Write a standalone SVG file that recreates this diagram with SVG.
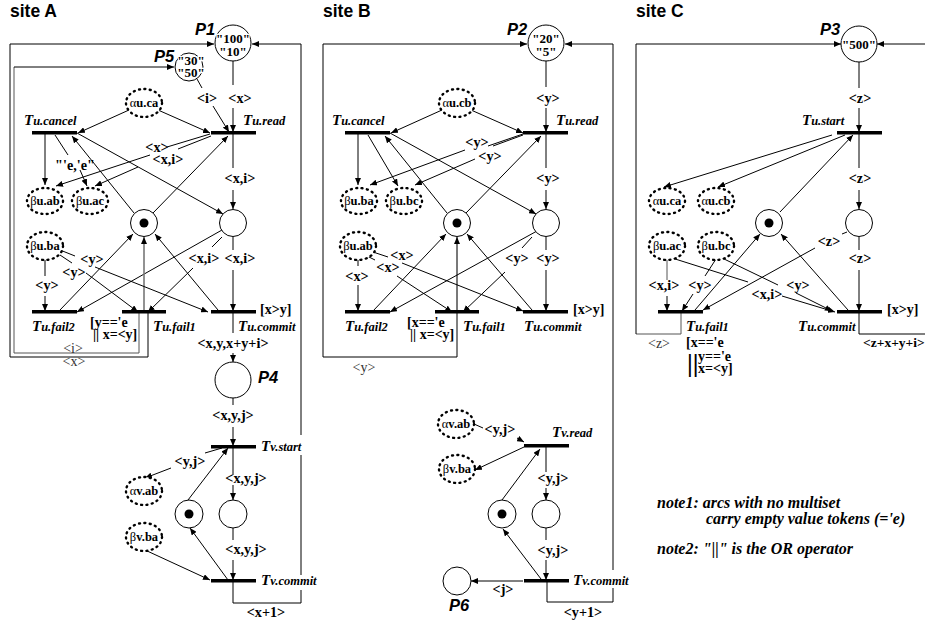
<svg xmlns="http://www.w3.org/2000/svg" width="925" height="623" viewBox="0 0 925 623">
<style>
text{font-family:"Liberation Serif","Times New Roman",serif;font-weight:bold;fill:#000}
.s{font-family:"Liberation Sans",Arial,sans-serif;font-size:17.5px}
.P{font-family:"Liberation Sans",Arial,sans-serif;font-style:italic;font-size:16.5px}
.l{font-size:14.2px;text-anchor:middle}
.g{font-size:14px;text-anchor:middle;font-weight:normal;fill:#333}
.gd{font-size:14px}
.k{font-size:13.5px}
.m{font-size:13px;text-anchor:middle;stroke:#fff;stroke-width:2.5px;paint-order:stroke}
.tn{font-size:15px;font-style:italic}
.tn tspan{font-size:12.5px}
.e{font-size:12.5px;text-anchor:middle}
.e tspan{font-weight:normal}
.note{font-size:16px;font-style:italic}
.t{fill:#000}
.p{fill:#fff;stroke:#000;stroke-width:1}
.d{fill:#fff;stroke:#000;stroke-width:2.4;stroke-dasharray:1 4.4;stroke-linecap:round}
.a{fill:none;stroke:#000;stroke-width:1;marker-end:url(#h)}
.n{fill:none;stroke:#000;stroke-width:1}
.y{fill:none;stroke:#555;stroke-width:1}
.th{fill:none;stroke:#777;stroke-width:1.6;marker-end:url(#h)}
</style>
<defs>
<marker id="h" markerUnits="userSpaceOnUse" markerWidth="7" markerHeight="6" refX="7" refY="3" orient="auto"><path d="M0 0L7 3L0 6Z" fill="#000"/></marker>
</defs>
<rect width="925" height="623" fill="#fff"/>
<g id="connectors">
<path class="a" d="M10 356V44H214"/>
<path class="y" d="M139 312V353H14V67"/>
<path class="a" d="M14 67H174"/>
<path class="n" d="M148 312V357H10V356"/>
<path class="a" d="M301 435V44H252"/>
<path class="n" d="M233 581V603H301V590M301 455V575"/>
<path class="a" d="M233 61V85M233 108V132"/>
<path class="a" d="M197 79L202 88M213 106L229 132"/>
<path class="a" d="M129 110L78 133"/>
<path class="a" d="M158 110L210 133"/>
<path class="a" d="M210 134L167 147M150 155L56 186"/>
<path class="a" d="M211 136L178 149M138 167L95 186"/>
<path class="a" d="M45 133V185"/>
<path class="a" d="M55 135L68 155M80 170L87 186"/>
<path class="a" d="M134 213L72 136"/>
<path class="a" d="M153 213L228 136"/>
<path class="a" d="M77 133L223 214"/>
<path class="a" d="M233 134V168M233 190V209"/>
<path class="a" d="M222 237L212 247M193 268L148 312"/>
<path class="a" d="M222 230L77 312"/>
<path class="a" d="M233 237V250M233 270V311"/>
<path class="a" d="M60 310L133 234"/>
<path class="th" d="M144 312V237"/>
<path class="a" d="M218 310L155 234"/>
<path class="a" d="M45 259V276M45 296V311"/>
<path class="a" d="M60 255L72 263M86 273L138 312"/>
<path class="a" d="M60 250L75 256M95 267L208 312"/>
<path class="a" d="M233 312V333M233 353V362"/>
<path class="a" d="M233 398V405M233 427V446"/>
<path class="a" d="M222 448L205 453M171 468L145 478"/>
<path class="a" d="M188 500L228 448"/>
<path class="a" d="M233 447V475M233 485V500"/>
<path class="a" d="M233 528V540M233 560V580"/>
<path class="a" d="M228 580L190 528"/>
<path class="a" d="M145 550L210 580"/>
<path class="a" d="M457 237V357H323V44H527"/>
<path class="th" d="M457 312V237"/>
<path class="a" d="M613 570V44H565"/>
<path class="n" d="M547 581V602H613V588"/>
<path class="a" d="M546 61V87M546 108V132"/>
<path class="a" d="M442 110L391 133"/>
<path class="a" d="M471 110L523 133"/>
<path class="a" d="M523 134L488 146M465 150L370 185"/>
<path class="a" d="M523 135L493 146M475 159L415 185"/>
<path class="a" d="M358 133V185"/>
<path class="a" d="M368 135L398 186"/>
<path class="a" d="M447 213L385 136"/>
<path class="a" d="M466 213L541 136"/>
<path class="a" d="M390 133L536 214"/>
<path class="a" d="M546 134V168M546 190V209"/>
<path class="a" d="M532 237L522 248M505 272L463 312"/>
<path class="a" d="M537 231L390 312"/>
<path class="a" d="M546 237V250M546 270V311"/>
<path class="a" d="M373 311L446 234"/>
<path class="a" d="M532 310L467 234"/>
<path class="a" d="M358 258V266M358 285V311"/>
<path class="a" d="M367 256L375 260M397 276L452 312"/>
<path class="a" d="M373 252L388 257M402 263L523 311"/>
<path class="a" d="M474 424L483 428M517 438L524 442"/>
<path class="a" d="M524 447L475 470"/>
<path class="a" d="M502 500L540 449"/>
<path class="a" d="M546 447V472M546 488V500"/>
<path class="a" d="M546 528V540M546 560V580"/>
<path class="a" d="M541 579L503 529"/>
<path class="a" d="M523 581H471"/>
<path class="y" d="M681 312V334H636"/>
<path class="a" d="M636 334V44H841"/>
<path class="a" d="M925 44H877"/>
<path class="n" d="M859 312V334H925"/>
<path class="a" d="M859 62V88M859 108V132"/>
<path class="a" d="M859 133V168M859 190V209"/>
<path class="a" d="M859 237V250M859 270V311"/>
<path class="a" d="M832 135L664 187"/>
<path class="a" d="M845 135L718 187"/>
<path class="a" d="M780 212L853 135"/>
<path class="a" d="M695 310L760 234"/>
<path class="a" d="M848 310L781 234"/>
<path class="a" d="M847 232L842 234M815 248L703 310"/>
<path class="y" d="M667 258V280"/>
<path class="a" d="M667 296V311"/>
<path class="a" d="M716 259L705 276M693 294L682 311"/>
<path class="a" d="M672 258L748 282M782 296L835 312"/>
<path class="a" d="M722 258L778 285M796 293L832 311"/>
</g>
<g id="arc-labels">
<text class="l" x="207" y="103">&lt;i&gt;</text><text class="l" x="240" y="103">&lt;x&gt;</text>
<text class="l" x="157" y="152">&lt;x&gt;</text><text class="l" x="168" y="164">&lt;x,i&gt;</text>
<text class="l" x="75" y="170">"'e,'e"</text><text class="l" x="240" y="183">&lt;x,i&gt;</text>
<text class="l" x="204" y="263">&lt;x,i&gt;</text><text class="l" x="240" y="263">&lt;x,i&gt;</text>
<text class="l" x="92" y="264">&lt;y&gt;</text><text class="l" x="74" y="277">&lt;y&gt;</text><text class="l" x="47" y="290">&lt;y&gt;</text>
<text class="l" x="233" y="348">&lt;x,y,x+y+i&gt;</text>
<text class="g" x="73" y="353">&lt;i&gt;</text><text class="g" x="74" y="366">&lt;x&gt;</text>
<text class="l" x="233" y="420">&lt;x,y,j&gt;</text><text class="l" x="190" y="466">&lt;y,j&gt;</text>
<text class="l" x="246" y="483">&lt;x,y,j&gt;</text><text class="l" x="246" y="554">&lt;x,y,j&gt;</text>
<text class="l" x="266" y="617">&lt;x+1&gt;</text>
<text class="l" x="548" y="103">&lt;y&gt;</text><text class="l" x="477" y="147">&lt;y&gt;</text><text class="l" x="490" y="161">&lt;y&gt;</text>
<text class="l" x="548" y="183">&lt;y&gt;</text><text class="l" x="517" y="263">&lt;y&gt;</text><text class="l" x="548" y="263">&lt;y&gt;</text>
<text class="l" x="402" y="260">&lt;x&gt;</text><text class="l" x="388" y="272">&lt;x&gt;</text><text class="l" x="357" y="281">&lt;x&gt;</text>
<text class="g" x="364" y="372">&lt;y&gt;</text>
<text class="l" x="500" y="434">&lt;y,j&gt;</text><text class="l" x="553" y="483">&lt;y,j&gt;</text><text class="l" x="553" y="555">&lt;y,j&gt;</text>
<text class="l" x="503" y="594">&lt;j&gt;</text><text class="l" x="583" y="617">&lt;y+1&gt;</text>
<text class="l" x="860" y="103">&lt;z&gt;</text><text class="l" x="860" y="183">&lt;z&gt;</text><text class="l" x="829" y="246">&lt;z&gt;</text><text class="l" x="860" y="263">&lt;z&gt;</text>
<text class="l" x="664" y="290">&lt;x,i&gt;</text><text class="l" x="700" y="290">&lt;y&gt;</text><text class="l" x="767" y="299">&lt;x,i&gt;</text><text class="l" x="798" y="290">&lt;y&gt;</text>
<text class="g" x="659" y="348">&lt;z&gt;</text>
<text class="k" x="863" y="347">&lt;z+x+y+i&gt;</text>
</g>
<g id="guards">
<text class="gd" x="260" y="314">[x&gt;y]</text><text class="gd" x="90" y="327">[y=='e</text><text class="gd" x="93" y="339">|| x=&lt;y]</text>
<text class="gd" x="573" y="314">[x&gt;y]</text><text class="gd" x="407" y="327">[x=='e</text><text class="gd" x="410" y="339">|| x=&lt;y]</text>
<text class="gd" x="887" y="314">[x&gt;y]</text><text class="gd" x="686" y="347">[x=='e</text>
<text x="687" y="372" font-size="26" font-weight="normal">||</text><text class="gd" x="698" y="361">y=='e</text><text class="gd" x="698" y="373">x=&lt;y]</text>
</g>
<g id="titles">
<text class="s" x="10" y="17">site A</text><text class="s" x="323" y="17">site B</text><text class="s" x="636" y="17">site C</text>
</g>
<g id="P1"><circle class="p" cx="233" cy="43" r="18"/><text class="m" x="233" y="43">"100"</text><text class="m" x="233" y="56">"10"</text><text class="P" x="195" y="35">P1</text></g>
<g id="P5"><circle class="p" cx="189" cy="67" r="14"/><text class="m" x="191" y="65">"30"</text><text class="m" x="191" y="77">"50"</text><text class="P" x="154" y="62">P5</text></g>
<g id="P2"><circle class="p" cx="546" cy="43" r="18"/><text class="m" x="546" y="43">"20"</text><text class="m" x="546" y="56">"5"</text><text class="P" x="507" y="35">P2</text></g>
<g id="P3"><circle class="p" cx="859" cy="44" r="18"/><text class="m" x="859" y="49">"500"</text><text class="P" x="820" y="35">P3</text></g>
<g id="P4"><circle class="p" cx="233" cy="380" r="18"/><text class="P" x="258" y="383">P4</text></g>
<g id="P6"><circle class="p" cx="457" cy="581" r="14"/><text class="P" x="449" y="611">P6</text></g>
<g id="A-token"><circle class="p" cx="144" cy="223" r="13.5"/><circle cx="144" cy="223" r="4.5"/></g>
<g id="A-place"><circle class="p" cx="233" cy="223" r="13.5"/></g>
<g id="A-v-token"><circle class="p" cx="189" cy="514" r="14"/><circle cx="189" cy="514" r="4.5"/></g>
<g id="A-v-place"><circle class="p" cx="233" cy="514" r="14"/></g>
<g id="B-token"><circle class="p" cx="457" cy="223" r="13.5"/><circle cx="457" cy="223" r="4.5"/></g>
<g id="B-place"><circle class="p" cx="546" cy="223" r="13.5"/></g>
<g id="B-v-token"><circle class="p" cx="502" cy="514" r="14"/><circle cx="502" cy="514" r="4.5"/></g>
<g id="B-v-place"><circle class="p" cx="546" cy="514" r="14"/></g>
<g id="C-token"><circle class="p" cx="769" cy="223" r="13.5"/><circle cx="769" cy="223" r="4.5"/></g>
<g id="C-place"><circle class="p" cx="859" cy="223" r="13.5"/></g>
<g id="A-alpha-ca"><ellipse class="d" cx="144" cy="103" rx="18" ry="14"/><text class="e" x="144" y="107"><tspan>α</tspan>u.ca</text></g>
<g id="A-beta-ab"><ellipse class="d" cx="45" cy="201" rx="18" ry="13"/><text class="e" x="45" y="205"><tspan>β</tspan>u.ab</text></g>
<g id="A-beta-ac"><ellipse class="d" cx="90" cy="201" rx="18" ry="13"/><text class="e" x="90" y="205"><tspan>β</tspan>u.ac</text></g>
<g id="A-beta-ba"><ellipse class="d" cx="45" cy="246" rx="18" ry="14"/><text class="e" x="45" y="250"><tspan>β</tspan>u.ba</text></g>
<g id="A-alpha-vab"><ellipse class="d" cx="144" cy="491" rx="18" ry="14"/><text class="e" x="144" y="495"><tspan>α</tspan>v.ab</text></g>
<g id="A-beta-vba"><ellipse class="d" cx="144" cy="537" rx="18" ry="14"/><text class="e" x="144" y="541"><tspan>β</tspan>v.ba</text></g>
<g id="B-alpha-cb"><ellipse class="d" cx="457" cy="103" rx="18" ry="14"/><text class="e" x="457" y="107"><tspan>α</tspan>u.cb</text></g>
<g id="B-beta-ba"><ellipse class="d" cx="359" cy="201" rx="18" ry="13"/><text class="e" x="359" y="205"><tspan>β</tspan>u.ba</text></g>
<g id="B-beta-bc"><ellipse class="d" cx="404" cy="201" rx="18" ry="13"/><text class="e" x="404" y="205"><tspan>β</tspan>u.bc</text></g>
<g id="B-beta-ab"><ellipse class="d" cx="358" cy="246" rx="18" ry="14"/><text class="e" x="358" y="250"><tspan>β</tspan>u.ab</text></g>
<g id="B-alpha-vab"><ellipse class="d" cx="456" cy="424" rx="18" ry="14"/><text class="e" x="456" y="428"><tspan>α</tspan>v.ab</text></g>
<g id="B-beta-vba"><ellipse class="d" cx="457" cy="469" rx="18" ry="14"/><text class="e" x="457" y="473"><tspan>β</tspan>v.ba</text></g>
<g id="C-alpha-ca"><ellipse class="d" cx="667" cy="201" rx="18" ry="13"/><text class="e" x="667" y="205"><tspan>α</tspan>u.ca</text></g>
<g id="C-alpha-cb"><ellipse class="d" cx="716" cy="201" rx="18" ry="13"/><text class="e" x="716" y="205"><tspan>α</tspan>u.cb</text></g>
<g id="C-beta-ac"><ellipse class="d" cx="667" cy="246" rx="18" ry="14"/><text class="e" x="667" y="250"><tspan>β</tspan>u.ac</text></g>
<g id="C-beta-bc"><ellipse class="d" cx="716" cy="246" rx="18" ry="14"/><text class="e" x="716" y="250"><tspan>β</tspan>u.bc</text></g>
<g id="A-Tu-cancel"><rect class="t" x="32" y="131" width="45" height="3.5"/><text class="tn" x="24" y="125">T<tspan>u.cancel</tspan></text></g>
<g id="A-Tu-read"><rect class="t" x="211" y="131" width="45" height="3.5"/><text class="tn" x="243" y="125">T<tspan>u.read</tspan></text></g>
<g id="A-Tu-fail2"><rect class="t" x="32" y="310" width="45" height="3.5"/><text class="tn" x="32" y="331">T<tspan>u.fail2</tspan></text></g>
<g id="A-Tu-fail1"><rect class="t" x="122" y="310" width="44" height="3.5"/><text class="tn" x="153" y="331">T<tspan>u.fail1</tspan></text></g>
<g id="A-Tu-commit"><rect class="t" x="211" y="310" width="45" height="3.5"/><text class="tn" x="238" y="331">T<tspan>u.commit</tspan></text></g>
<g id="A-Tv-start"><rect class="t" x="211" y="445" width="45" height="3.5"/><text class="tn" x="261" y="451">T<tspan>v.start</tspan></text></g>
<g id="A-Tv-commit"><rect class="t" x="211" y="579" width="45" height="3.5"/><text class="tn" x="261" y="585">T<tspan>v.commit</tspan></text></g>
<g id="B-Tu-cancel"><rect class="t" x="345" y="131" width="45" height="3.5"/><text class="tn" x="332" y="125">T<tspan>u.cancel</tspan></text></g>
<g id="B-Tu-read"><rect class="t" x="523" y="131" width="45" height="3.5"/><text class="tn" x="556" y="125">T<tspan>u.read</tspan></text></g>
<g id="B-Tu-fail2"><rect class="t" x="345" y="310" width="45" height="3.5"/><text class="tn" x="345" y="331">T<tspan>u.fail2</tspan></text></g>
<g id="B-Tu-fail1"><rect class="t" x="435" y="310" width="44" height="3.5"/><text class="tn" x="463" y="331">T<tspan>u.fail1</tspan></text></g>
<g id="B-Tu-commit"><rect class="t" x="523" y="310" width="45" height="3.5"/><text class="tn" x="524" y="331">T<tspan>u.commit</tspan></text></g>
<g id="B-Tv-read"><rect class="t" x="524" y="444" width="45" height="3.5"/><text class="tn" x="552" y="437">T<tspan>v.read</tspan></text></g>
<g id="B-Tv-commit"><rect class="t" x="524" y="579" width="45" height="3.5"/><text class="tn" x="573" y="585">T<tspan>v.commit</tspan></text></g>
<g id="C-Tu-start"><rect class="t" x="837" y="131" width="45" height="3.5"/><text class="tn" x="802" y="125">T<tspan>u.start</tspan></text></g>
<g id="C-Tu-fail1"><rect class="t" x="658" y="310" width="45" height="3.5"/><text class="tn" x="686" y="331">T<tspan>u.fail1</tspan></text></g>
<g id="C-Tu-commit"><rect class="t" x="837" y="310" width="45" height="3.5"/><text class="tn" x="798" y="331">T<tspan>u.commit</tspan></text></g>
<g id="notes">
<text class="note" x="657" y="508">note1: arcs with no multiset</text>
<text class="note" x="706" y="524">carry empty value tokens (='e)</text>
<text class="note" x="657" y="554">note2: "||" is the OR operator</text>
</g>
</svg>
